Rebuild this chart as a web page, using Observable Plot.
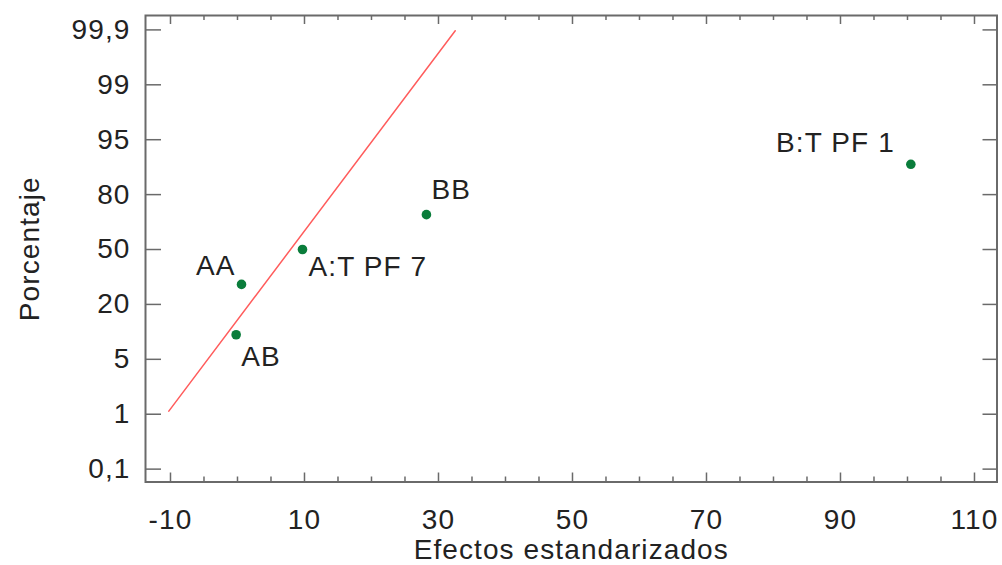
<!DOCTYPE html>
<html>
<head>
<meta charset="utf-8">
<script src="https://cdn.jsdelivr.net/npm/d3@7"></script>
<script src="https://cdn.jsdelivr.net/npm/@observablehq/plot@0.6"></script>
<style>
  html, body { margin: 0; padding: 0; background: #fff; }
  #chart svg { display: block; font-family: "Liberation Sans", Arial, sans-serif; }
  #chart svg text { letter-spacing: 1.1px; }
</style>
</head>
<body>
<div id="chart"></div>
<script>
// ---- data ----
const effectNames = ["AB", "AA", "A:T PF 7", "BB", "B:T PF 1"];
const effectValues = [-0.2, 0.6, 9.7, 28.2, 100.5];
const cumulativePercent = [10, 30, 50, 70, 90];
const refLineX = [-10.25, 32.5];
const refLineZ = [-2.43, 3.29];
const xTickValues = [-10, 10, 30, 50, 70, 90, 110];
const yTickLabels = ["0,1", "1", "5", "20", "50", "80", "95", "99", "99,9"];

// inverse standard normal CDF (Acklam)
function probit(p) {
  const a = [-3.969683028665376e+01, 2.209460984245205e+02, -2.759285104469687e+02, 1.383577518672690e+02, -3.066479806614716e+01, 2.506628277459239e+00];
  const b = [-5.447609879822406e+01, 1.615858368580409e+02, -1.556989798598866e+02, 6.680131188771972e+01, -1.328068155288572e+01];
  const c = [-7.784894002430293e-03, -3.223964580411365e-01, -2.400758277161838e+00, -2.549732539343734e+00, 4.374664141464968e+00, 2.938163982698783e+00];
  const d = [7.784695709041462e-03, 3.224671290700398e-01, 2.445134137142996e+00, 3.754408661907416e+00];
  const pl = 0.02425;
  if (p < pl) { const q = Math.sqrt(-2 * Math.log(p)); return (((((c[0]*q+c[1])*q+c[2])*q+c[3])*q+c[4])*q+c[5]) / ((((d[0]*q+d[1])*q+d[2])*q+d[3])*q+1); }
  if (p > 1 - pl) { const q = Math.sqrt(-2 * Math.log(1 - p)); return -(((((c[0]*q+c[1])*q+c[2])*q+c[3])*q+c[4])*q+c[5]) / ((((d[0]*q+d[1])*q+d[2])*q+d[3])*q+1); }
  const q = p - 0.5, r = q * q;
  return (((((a[0]*r+a[1])*r+a[2])*r+a[3])*r+a[4])*r+a[5])*q / (((((b[0]*r+b[1])*r+b[2])*r+b[3])*r+b[4])*r+1);
}

const points = effectNames.map((name, i) => ({name, x: effectValues[i], z: probit(cumulativePercent[i] / 100)}));
const refLine = refLineX.map((x, i) => ({x, z: refLineZ[i]}));

// layout
const W = 1002, H = 565;
const mL = 145, mR = 5.5, mT = 15, mB = 83.5;
const xDom = [-13.73, 113.36];
const yDom = [-3.496, 3.519];
const pxX = (W - mL - mR) / (xDom[1] - xDom[0]);
const pxY = (H - mT - mB) / (yDom[1] - yDom[0]);
const tickStep = 0.8256; // equal label spacing in normal-score units
const yTicks = yTickLabels.map((label, i) => ({label, z: (i - 4) * tickStep}));
const xMinor = d3.range(-10, 111, 5).filter(v => !xTickValues.includes(v));

const axisColor = "#6a6a6a";
const textColor = "#222";
const fs = 28;

const labelPlacement = {
  "AB":       {textAnchor: "start", lineAnchor: "top",    dx: 5,   dy: 11},
  "AA":       {textAnchor: "end",   lineAnchor: "bottom", dx: -6,  dy: -9},
  "A:T PF 7": {textAnchor: "start", lineAnchor: "top",    dx: 6,   dy: 7},
  "BB":       {textAnchor: "start", lineAnchor: "bottom", dx: 5,   dy: -16},
  "B:T PF 1": {textAnchor: "end",   lineAnchor: "bottom", dx: -16, dy: -12}
};

const labelMarks = points.map(p => Plot.text([p], {
  x: "x", y: "z", text: "name", fontSize: fs, fill: textColor, ...labelPlacement[p.name]
}));

const chart = Plot.plot({
  width: W, height: H,
  marginLeft: mL, marginRight: mR, marginTop: mT, marginBottom: mB,
  x: {domain: xDom, axis: null},
  y: {domain: yDom, axis: null},
  style: {fontFamily: "Liberation Sans, Arial, sans-serif", background: "#fff"},
  marks: [
    // x ticks bottom & top
    Plot.ruleX(xTickValues, {x: d => d, y1: yDom[0], y2: yDom[0] + 9 / pxY, stroke: axisColor, strokeWidth: 1.5}),
    Plot.ruleX(xMinor, {x: d => d, y1: yDom[0], y2: yDom[0] + 5 / pxY, stroke: axisColor, strokeWidth: 1.5}),
    Plot.ruleX(xTickValues, {x: d => d, y1: yDom[1], y2: yDom[1] - 9 / pxY, stroke: axisColor, strokeWidth: 1.5}),
    Plot.ruleX(xMinor, {x: d => d, y1: yDom[1], y2: yDom[1] - 5 / pxY, stroke: axisColor, strokeWidth: 1.5}),
    // y ticks left & right
    Plot.ruleY(yTicks, {y: "z", x1: xDom[0], x2: xDom[0] + 16 / pxX, stroke: axisColor, strokeWidth: 1.5}),
    Plot.ruleY(yTicks, {y: "z", x1: xDom[1], x2: xDom[1] - 14 / pxX, stroke: axisColor, strokeWidth: 1.5}),
    Plot.frame({stroke: axisColor, strokeWidth: 2}),
    // tick labels
    Plot.text(xTickValues, {x: d => d, frameAnchor: "bottom", lineAnchor: "middle", dy: 38, text: d => String(d), fontSize: fs, fill: textColor}),
    Plot.text(yTicks, {y: "z", frameAnchor: "left", dx: -15, textAnchor: "end", lineAnchor: "middle", text: "label", fontSize: fs, fill: textColor}),
    // axis titles
    Plot.text(["Efectos estandarizados"], {frameAnchor: "bottom", lineAnchor: "middle", textAnchor: "middle", dy: 68, fontSize: fs, fill: textColor}),
    Plot.text(["Porcentaje"], {frameAnchor: "left", lineAnchor: "middle", textAnchor: "middle", dx: -115, rotate: -90, fontSize: fs, fill: textColor}),
    // reference line
    Plot.line(refLine, {x: "x", y: "z", stroke: "#ff5c5c", strokeWidth: 1.5}),
    // points
    Plot.dot(points, {x: "x", y: "z", r: 4.8, fill: "#0a7d3b", stroke: "none"}),
    ...labelMarks
  ]
});

document.getElementById("chart").appendChild(chart);
</script>
</body>
</html>
